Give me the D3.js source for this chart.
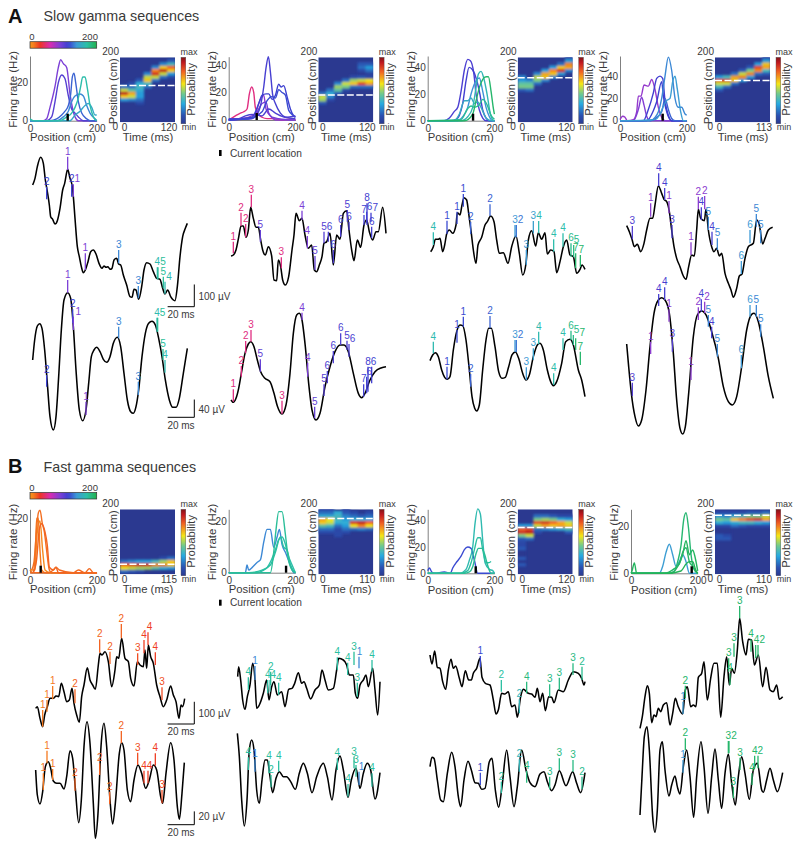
<!DOCTYPE html>
<html>
<head>
<meta charset="utf-8">
<script src="https://cdn.jsdelivr.net/npm/d3@7"></script>
<style>
  body { margin: 0; background: #fff; }
  text { font-family: "Liberation Sans", Arial, sans-serif; fill: #3a3a3a; }
  .domain { stroke: #808080; }
</style>
</head>
<body>
<div id="container"></div>
<script>
/* DATA */
// firing rate curves: [place field position in cm, [[position cm, rate Hz], ...]]
const rateA1 = [
  [90, [[0,0],[40,0],[50,1],[60,7],[75,18],[85,28],[92,32],[100,30],[110,28],[120,14],[135,2],[145,0],[200,0]]],
  [105, [[0,0],[50,0],[65,2],[75,10],[85,20],[95,24],[105,22],[115,13],[125,6],[135,4],[145,2],[160,0],[200,0]]],
  [125, [[0,0],[60,0],[80,1],[95,3],[105,5],[115,8],[122,14],[127,23],[132,25],[137,20],[145,10],[155,4],[170,1],[180,0],[200,0]]],
  [135, [[0,0],[80,0],[100,2],[115,5],[125,10],[135,13],[150,14],[160,13],[170,8],[180,4],[195,1],[200,0]]],
  [150, [[0,0],[120,0],[135,3],[150,5],[165,8],[175,9],[185,7],[195,3],[200,3]]],
  [168, [[0,1],[10,0],[70,0],[90,0],[110,2],[125,4],[135,7],[145,12],[152,18],[158,23],[165,23],[172,17],[180,8],[190,2],[200,0]]]
];
const rateA2 = [
  [50, [[0,0],[20,3],[35,5],[45,6],[55,8],[62,19],[69,24],[75,20],[80,9],[90,4],[100,2],[115,1],[130,1],[160,0],[190,1],[200,0]]],
  [85, [[0,0],[60,2],[80,5],[95,15],[105,18],[112,8],[125,3],[140,0],[200,0]]],
  [92, [[0,0],[70,1],[90,8],[100,12],[112,13],[120,5],[130,2],[150,1],[200,0]]],
  [110, [[0,0],[70,1],[85,4],[95,10],[105,24],[112,38],[119,46],[125,35],[132,18],[140,12],[155,5],[170,2],[200,1]]],
  [114, [[0,0],[70,2],[90,12],[100,18],[112,19],[120,19],[130,15],[140,18],[150,26],[157,24],[165,25],[175,17],[185,8],[195,3],[200,2]]],
  [118, [[0,0],[60,1],[100,6],[115,14],[130,17],[140,16],[150,22],[160,20],[170,18],[180,7],[195,3],[200,2]]],
  [108, [[0,1],[30,1],[50,3],[70,4],[100,3],[120,8],[140,5],[170,2],[200,3]]]
];
const rateA3 = [
  [108, [[0,0],[50,0],[65,2],[80,7],[90,10],[100,22],[110,38],[120,46],[128,45],[138,36],[145,20],[155,8],[165,2],[175,0],[200,0]]],
  [112, [[0,0],[70,0],[85,1],[95,4],[105,13],[115,30],[124,40],[135,38],[145,32],[155,22],[165,8],[175,2],[185,0],[200,0]]],
  [138, [[0,0],[90,0],[105,3],[120,10],[130,20],[145,30],[155,32],[165,22],[175,10],[185,3],[195,0],[200,0]]],
  [152, [[0,0],[80,0],[95,5],[110,15],[120,15],[130,17],[140,13],[150,14],[160,10],[175,2],[190,0],[200,0]]],
  [162, [[0,0],[100,0],[120,3],[135,10],[145,25],[152,35],[160,37],[168,32],[178,20],[188,5],[198,0],[200,0]]],
  [176, [[0,0],[100,1],[120,9],[130,11],[140,10],[155,12],[165,16],[178,12],[190,4],[200,1]]],
  [190, [[0,0],[110,0],[135,5],[145,15],[155,25],[165,31],[175,33],[182,33],[190,22],[197,9],[200,5]]]
];
const rateA4 = [
  [82, [[0,1],[8,4],[15,3],[22,0],[40,1],[50,8],[55,22],[63,22],[72,32],[85,31],[95,37],[105,28],[115,12],[125,3],[135,0],[200,0]]],
  [88, [[0,0],[40,0],[55,10],[65,21],[72,14],[80,4],[90,0],[200,0]]],
  [112, [[0,0],[70,0],[85,10],[100,25],[110,38],[120,40],[128,38],[135,18],[145,5],[155,0],[200,0]]],
  [115, [[0,0],[80,0],[100,9],[110,17],[125,35],[130,22],[140,8],[155,0],[200,0]]],
  [125, [[0,0],[90,0],[110,3],[125,8],[135,20],[145,10],[155,2],[165,0],[200,0]]],
  [135, [[0,0],[90,0],[105,3],[115,8],[125,20],[135,40],[145,57],[155,45],[165,20],[175,12],[185,12],[195,6],[200,5]]],
  [142, [[0,0],[105,1],[120,6],[130,13],[140,18],[150,20],[158,35],[165,40],[172,28],[182,8],[190,0],[200,0]]]
];
const rateB1 = [
  [8, [[0,1],[15,1],[20,12],[25,18],[30,19],[38,8],[45,1],[60,0],[200,0]]],
  [12, [[0,1],[8,0],[15,5],[20,20],[25,20],[30,8],[35,1],[45,0],[200,0]]],
  [15, [[5,1],[12,4],[18,13],[25,22],[30,23],[37,18],[43,15],[50,8],[58,1],[65,0],[200,0]]],
  [18, [[10,0],[20,5],[28,16],[35,18],[45,15],[52,10],[58,2],[70,1],[78,2],[85,0],[200,0]]],
  [16, [[0,0],[55,0],[70,1],[78,2],[88,1],[130,0],[145,1],[165,0],[178,1.5],[190,0],[200,0]]]
];
const rateB2 = [
  [135, [[0,0],[50,0],[55,3],[60,1],[70,2],[85,4],[95,5],[105,12],[115,17],[125,17],[135,10],[145,14],[152,17],[160,11],[170,8],[185,3],[195,0],[200,0]]],
  [170, [[0,0],[85,0],[105,1],[115,2],[128,5],[140,9],[150,13],[160,14],[168,12],[178,7],[190,3],[200,0]]],
  [172, [[0,0],[60,0],[100,1],[125,3],[140,8],[155,14],[165,10],[175,9],[185,3],[200,0]]],
  [175, [[0,0],[100,0],[125,0],[135,8],[142,17],[150,24],[160,24],[170,15],[178,6],[190,1],[200,0]]]
];
const rateB3 = [
  [118, [[0,2],[5,4],[12,1],[20,0],[50,1],[68,0],[75,4],[88,9],[100,13],[110,18],[120,20],[130,19],[140,10],[150,0],[200,0]]],
  [165, [[0,0],[95,0],[115,3],[125,10],[135,20],[142,38],[150,49],[158,45],[165,25],[172,8],[185,3],[195,2],[200,0]]],
  [172, [[0,0],[100,0],[120,2],[130,8],[140,18],[150,27],[158,27],[165,18],[175,8],[182,8],[190,9]]],
  [176, [[0,0],[110,0],[125,1],[135,5],[145,15],[152,19],[162,19],[170,15],[180,6],[190,0],[200,0]]]
];
const rateB4 = [
  [142, [[0,0],[60,0],[85,0],[95,3],[105,9],[115,12.5],[125,8],[135,3],[145,5],[155,8],[165,5],[175,0],[200,0]]],
  [194, [[0,0],[3,1],[10,4.5],[17,0],[30,0],[120,0],[140,3],[155,8],[165,14],[175,8],[185,10],[192,7],[200,1]]],
  [188, [[0,0],[110,0],[130,1],[140,5],[150,12],[158,23],[165,26],[172,20],[180,8],[188,2],[200,0]]],
  [192, [[0,0],[100,0],[130,2],[145,4],[155,9],[165,11],[175,5],[185,3],[200,0]]],
  [196, [[0,0],[110,0],[150,1],[165,4],[175,5],[185,5],[195,1],[200,0]]]
];

// decoded probability per time bin: [position of first 10 cm row, probabilities going up]
const heatA1 = [[70,.3,.7,1,.6,.2],[70,.25,.6,.75,.45,.2,.1],[60,.1,.2,.3,.3,.35,.4,.35,.15],[110,.2,.4,.7,.6,.25],[130,.2,.6,.95,.8,.25],[140,.2,.6,1,.7,.25],[140,.1,.3,.7,.85,.4,.15]];
const heatA2 = [[60,.15,.55,.6,.2],[70,.1,.25,.35,.2],[90,.15,.45,.55,.25],[100,.1,.5,.6,.2],[110,.2,.7,.55,.1],[110,.2,.9,.6,.15,0,.1,.2,.15],[110,.2,.75,.65,.1,.05,.2,.3,.15]];
const heatA3 = [[100,.15,.5,.45,.3,.25],[100,.2,.5,.45,.25],[120,.2,.5,.6,.25],[130,.25,.7,.75,.3],[140,.25,.7,.8,.3],[150,.3,.95,.7,.2],[160,.25,.75,.8,.3,.1]];
const heatA4 = [[100,.15,.4,.6,.9,.3],[110,.2,.6,.95,.4],[120,.2,.7,.75,.2],[130,.3,.8,.6,.15],[140,.3,.8,.5,.15],[150,.2,.8,.9,.3],[150,.15,.4,.75,.7,.3,.1]];
const heatB1 = [[10,.2,.65,.85,.2],[10,.15,.6,.9,.25],[10,.1,.55,.95,.3],[20,.55,.95,.3],[20,.45,.8,.4],[20,.35,.8,.55,.1],[20,.3,.7,.7,.2]];
const heatB2 = [[130,.1,.2,.45,.7,.75,.35,.2,.1],[130,.1,.2,.4,.6,.65,.35,.2,.1],[120,.1,.1,.1,.2,.35,.4,.4,.35],[130,.1,.2,.3,.35,.3,.25,.15,.1],[140,.2,.65,.95,.35,.2,.1],[140,.25,.8,1,.35,.15],[140,.2,.65,.85,.3,.2,.1]];
const heatB3 = [[30,.15,0,.15,0,0,.15,.1,.1,.15,.5,.95,.85,.3],[110,.2,.6,1,.9,.3],[130,.1,.2,.6,.9,.5,.2],[140,.25,.75,.95,.55,.2],[140,.3,.7,.85,.5,.15],[140,.35,.75,.75,.35,.1],[130,.15,.4,.7,.6,.3,.1]];
const heatB4 = [[110,.15,.15,0,0,.1,.35,.5,.3,.1],[110,.15,.1,0,0,.1,.3,.45,.25,.1],[150,.2,.35,.7,.35,.1],[150,.15,.4,.8,.4,.1],[150,.1,.4,.9,.5,.15],[150,.1,.35,.95,.5,.15],[150,.1,.3,.75,.6,.2]];

// LFP traces as [sample (4 kHz), amplitude in counts]; raw is 1.5 uV per count, filtered 0.75 (A) or 0.5 (B)
const rawA1 = [[8,395],[15,415],[22,450],[32,478],[40,460],[46,410],[52,375],[58,335],[62,300],[68,292],[75,278],[82,288],[90,325],[98,380],[104,400],[113,442],[120,415],[126,395],[130,360],[135,295],[142,210],[148,180],[154,150],[160,132],[166,140],[174,165],[182,195],[190,200],[198,188],[207,160],[216,145],[222,152],[228,148],[234,150],[240,142],[246,145],[252,170],[260,175],[266,158],[272,155],[280,125],[290,95],[300,60],[306,58],[312,82],[318,80],[326,52],[335,90],[342,140],[350,162],[360,158],[370,135],[380,115],[390,112],[398,85],[405,68],[413,80],[422,60],[435,48],[442,90],[450,180],[458,240],[466,265],[472,280]];
const filtA1 = [[8,220],[14,280],[22,322],[29,329],[36,315],[44,250],[52,150],[60,50],[70,10],[78,50],[86,170],[94,310],[102,400],[113,422],[122,405],[130,320],[138,190],[148,70],[158,38],[168,70],[176,150],[184,230],[192,250],[200,258],[210,245],[220,222],[230,213],[240,230],[250,270],[262,288],[272,260],[282,180],[292,100],[302,65],[310,60],[318,80],[326,130],[336,230],[346,300],[356,330],[366,336],[376,325],[386,285],[396,230],[406,160],[418,100],[428,78],[438,78],[448,105],[460,180],[472,255]];
const rawA2 = [[3,182],[10,185],[18,200],[26,238],[33,272],[40,272],[48,238],[55,260],[62,328],[70,295],[78,268],[85,268],[92,230],[98,200],[106,185],[115,210],[125,182],[132,110],[140,108],[145,170],[152,150],[158,110],[166,95],[176,120],[186,200],[192,245],[198,310],[208,288],[216,295],[225,245],[235,205],[245,215],[253,140],[260,135],[268,155],[276,180],[282,220],[290,225],[300,250],[310,155],[320,245],[330,232],[340,310],[350,318],[357,260],[365,200],[372,168],[382,230],[392,208],[402,275],[410,290],[418,255],[428,230],[438,255],[445,255],[458,328],[468,250]];
const filtA2 = [[3,100],[10,93],[18,105],[26,135],[34,180],[45,240],[55,268],[62,275],[72,260],[82,220],[92,185],[105,165],[120,155],[132,120],[142,82],[156,58],[168,85],[180,180],[190,300],[200,355],[208,360],[216,340],[226,260],[236,150],[246,70],[258,40],[270,60],[285,140],[300,200],[315,245],[330,265],[342,265],[355,245],[370,180],[385,120],[395,107],[405,120],[420,160],[435,185],[455,197],[468,200]];
const rawA3 = [[2,195],[10,210],[16,232],[24,232],[30,235],[38,195],[44,215],[50,248],[58,260],[68,250],[78,275],[82,312],[90,305],[96,335],[102,357],[110,350],[116,310],[124,250],[130,200],[138,160],[144,215],[155,238],[165,275],[172,285],[182,302],[192,285],[200,230],[208,190],[220,192],[234,160],[245,210],[258,242],[268,190],[278,125],[288,160],[295,230],[305,258],[317,212],[325,252],[335,232],[345,252],[352,188],[362,200],[372,195],[380,132],[390,165],[400,210],[410,230],[420,185],[430,180],[440,130],[450,142],[456,155],[465,142]];
const filtA3 = [[0,218],[8,235],[16,242],[25,230],[35,190],[44,168],[52,162],[60,170],[70,250],[80,305],[90,325],[98,323],[108,280],[118,190],[126,110],[134,75],[140,67],[148,85],[158,190],[168,280],[176,315],[184,315],[195,260],[206,185],[216,165],[226,168],[236,200],[246,235],[256,244],[266,225],[278,180],[288,160],[298,175],[310,230],[322,265],[330,270],[340,250],[352,190],[362,155],[370,143],[380,155],[395,210],[407,275],[420,282],[430,265],[445,190],[455,160],[465,110]];
const rawA4 = [[0,273],[8,255],[16,232],[23,210],[32,217],[42,195],[52,220],[60,260],[70,295],[78,295],[85,335],[95,392],[105,370],[112,352],[120,345],[128,315],[135,260],[142,210],[150,175],[160,150],[170,122],[178,112],[186,150],[195,185],[203,182],[210,260],[215,322],[222,295],[233,288],[238,322],[245,260],[255,210],[262,195],[270,205],[278,182],[285,190],[295,130],[305,100],[313,80],[320,58],[330,85],[338,122],[346,128],[355,175],[365,210],[380,220],[390,290],[398,275],[408,218],[415,235],[425,260],[438,268]];
const filtA4 = [[0,268],[6,200],[14,120],[25,50],[35,22],[45,40],[58,130],[70,260],[82,360],[95,400],[105,407],[115,400],[128,360],[140,240],[150,100],[160,15],[168,-2],[176,20],[186,120],[200,290],[212,355],[225,367],[238,355],[255,305],[275,225],[290,140],[305,95],[317,85],[330,110],[345,200],[360,310],[375,357],[382,360],[395,335],[410,260],[425,170],[440,105]];
const rawB1 = [[7,75],[12,80],[20,45],[28,20],[34,55],[42,80],[50,105],[60,105],[68,112],[76,110],[84,150],[92,125],[100,95],[108,100],[116,135],[122,90],[130,55],[138,33],[145,110],[152,145],[162,197],[170,160],[178,145],[186,132],[195,205],[200,240],[206,235],[215,245],[225,215],[235,140],[245,190],[250,230],[256,225],[265,285],[275,225],[285,215],[292,165],[302,142],[312,215],[320,205],[330,200],[335,250],[340,195],[345,265],[352,230],[360,210],[370,145],[380,110],[390,80],[400,100],[412,142],[420,115],[428,95],[437,45],[443,85],[448,80],[454,104]];
const filtB1 = [[7,240],[12,165],[20,138],[28,175],[36,250],[45,265],[52,245],[60,207],[70,200],[80,200],[92,183],[100,220],[110,298],[118,275],[126,185],[136,82],[144,150],[152,310],[161,385],[170,320],[180,140],[186,35],[194,110],[203,310],[212,380],[220,310],[230,150],[238,78],[246,140],[258,290],[265,322],[272,300],[282,180],[292,145],[302,210],[314,255],[325,230],[337,185],[348,210],[360,255],[370,240],[382,160],[388,140],[398,230],[412,322],[422,270],[432,130],[438,92],[446,170],[453,262]];
const rawB2 = [[3,170],[6,200],[12,160],[18,100],[25,72],[32,110],[40,145],[48,210],[55,160],[60,75],[68,85],[80,120],[90,160],[97,100],[105,140],[112,155],[122,115],[135,125],[145,80],[156,132],[166,135],[174,150],[185,182],[195,150],[202,155],[210,135],[222,103],[235,130],[248,145],[256,190],[265,160],[275,130],[290,135],[300,190],[306,225],[320,220],[330,205],[338,175],[350,175],[356,120],[363,105],[370,145],[380,160],[388,175],[395,140],[408,195],[415,130],[423,55],[430,155]];
const filtB2 = [[2,350],[8,280],[15,150],[23,72],[31,150],[38,300],[45,330],[52,300],[60,180],[68,140],[76,210],[85,270],[92,270],[100,220],[108,172],[118,215],[128,235],[140,220],[150,220],[162,205],[176,182],[188,230],[200,260],[212,230],[226,172],[240,220],[260,260],[272,220],[286,150],[298,240],[310,282],[320,240],[334,158],[344,210],[358,245],[370,185],[380,230],[392,260],[402,240],[415,153],[430,232]];
const rawB3 = [[0,205],[6,178],[14,217],[22,168],[30,165],[38,125],[47,102],[55,160],[63,192],[70,165],[77,172],[88,135],[96,110],[106,158],[116,130],[124,130],[130,150],[140,165],[150,195],[156,138],[166,120],[180,115],[190,70],[198,28],[205,40],[215,90],[225,88],[235,95],[245,50],[255,55],[262,18],[272,80],[280,102],[295,90],[305,88],[315,78],[322,105],[330,65],[338,90],[346,38],[356,80],[365,78],[372,62],[385,100],[400,95],[415,130],[430,155],[445,150],[455,135],[462,115],[465,125]];
const filtB3 = [[0,220],[6,248],[12,245],[22,180],[32,120],[40,115],[52,200],[65,263],[75,220],[85,130],[92,100],[102,180],[114,236],[124,210],[135,172],[145,170],[155,152],[165,155],[178,235],[186,245],[196,150],[206,98],[216,160],[230,270],[240,190],[252,100],[262,160],[275,270],[288,210],[300,172],[315,160],[330,198],[342,205],[352,175],[365,148],[375,165],[388,208],[408,163],[428,205],[440,170],[452,142],[465,202]];
const rawB4 = [[0,5],[7,40],[15,100],[22,133],[28,110],[35,22],[42,45],[48,40],[55,65],[62,55],[70,75],[80,82],[90,15],[98,50],[106,95],[114,72],[128,48],[136,120],[142,130],[152,70],[160,75],[168,70],[175,158],[185,170],[192,205],[202,90],[212,155],[222,200],[232,200],[242,38],[252,160],[260,220],[268,135],[275,185],[283,170],[292,240],[299,335],[308,265],[318,225],[325,272],[335,270],[343,195],[355,225],[368,130],[378,188],[390,120],[400,115],[410,135],[418,92],[428,100]];
const filtB4 = [[0,75],[6,190],[13,310],[21,340],[28,270],[38,70],[45,23],[52,90],[60,270],[67,295],[75,210],[87,132],[95,165],[105,192],[112,160],[120,138],[130,220],[140,270],[150,190],[161,68],[170,190],[183,295],[192,220],[204,80],[215,190],[225,273],[235,180],[245,95],[255,200],[265,258],[275,170],[286,105],[295,190],[305,250],[315,200],[328,122],[340,210],[352,230],[365,150],[370,143],[380,180],[390,215],[400,180],[412,145],[428,202]];

// decoded spikes on each trace: [sample, top count, bottom count, cell number, place field cm]
const spkRawA1 = [[50,390,352,"2",115],[113,480,440,"1",90],[125,397,360,"2",115],[130,397,360,"1",90],[166,190,140,"1",90],[266,200,160,"3",135],[325,92,55,"3",135],[382,148,112,"4",165],[384,148,112,"5",175],[400,120,85,"5",175],[405,105,68,"4",165]];
const spkFiltA1 = [[50,175,140,"2",115],[113,460,422,"1",90],[128,372,330,"2",115],[130,350,310,"1",90],[168,95,55,"1",90],[266,320,285,"3",135],[325,155,115,"3",135],[381,347,305,"4",165],[383,347,305,"5",175],[399,253,220,"5",175],[405,220,182,"4",165]];
const spkRawA2 = [[10,225,190,"1",50],[33,312,272,"2",50],[47,278,238,"2",50],[64,366,328,"3",50],[91,260,225,"5",100],[154,178,145,"3",50],[216,318,290,"4",90],[232,242,205,"4",90],[255,182,140,"5",100],[282,255,220,"5",105],[295,255,225,"6",108],[310,200,160,"6",108],[332,275,240,"6",108],[352,320,285,"5",108],[357,285,260,"6",108],[402,305,275,"7",112],[411,340,275,"8",112],[410,315,280,"6",112],[423,312,285,"7",112],[425,270,235,"6",112]];
const spkFiltA2 = [[10,132,95,"1",50],[34,202,170,"2",50],[47,277,240,"2",50],[63,310,275,"3",50],[91,222,185,"5",100],[156,98,58,"3",50],[216,362,340,"4",90],[233,212,170,"4",90],[254,80,45,"5",100],[282,147,112,"5",105],[292,187,150,"6",108],[310,247,210,"6",108],[332,300,265,"6",108],[351,278,250,"5",108],[357,268,230,"6",108],[401,147,110,"7",112],[410,170,120,"6",112],[414,200,125,"8",112],[425,200,150,"6",112]];
const spkRawA3 = [[10,253,215,"4",165],[51,288,248,"1",118],[81,315,278,"1",118],[100,368,330,"1",118],[122,285,248,"2",125],[180,337,302,"2",125],[255,275,238,"3",140],[259,275,238,"2",130],[289,200,155,"3",140],[310,287,250,"3",145],[326,287,250,"4",165],[371,232,195,"4",168],[399,250,210,"4",168],[423,220,180,"6",180],[431,215,178,"5",180],[437,190,145,"7",190],[451,185,150,"7",190]];
const spkFiltA3 = [[10,275,240,"4",165],[51,200,162,"1",118],[81,310,272,"1",118],[100,350,320,"1",118],[122,178,140,"2",125],[180,352,315,"2",125],[255,280,244,"3",140],[259,280,244,"2",130],[289,198,160,"3",140],[310,255,220,"3",145],[326,305,267,"4",165],[371,180,145,"4",168],[399,285,250,"4",168],[423,308,280,"6",180],[430,295,265,"5",180],[437,285,250,"7",190],[451,245,205,"7",190]];
const spkRawA4 = [[17,272,232,"3",105],[72,340,300,"1",85],[96,430,392,"4",110],[114,386,350,"4",110],[127,347,310,"1",85],[136,275,235,"3",108],[193,223,185,"1",85],[215,360,322,"2",85],[224,328,290,"4",110],[234,362,322,"2",85],[245,300,260,"5",135],[256,255,215,"4",110],[272,235,200,"5",135],[344,167,128,"6",140],[370,260,220,"6",140],[389,308,270,"5",135],[402,260,220,"5",135]];
const spkFiltA4 = [[17,152,112,"3",105],[72,275,238,"1",85],[96,418,382,"4",110],[114,438,400,"4",110],[127,372,335,"1",85],[137,282,245,"3",105],[193,200,160,"1",85],[215,378,340,"2",85],[224,402,365,"4",110],[234,395,360,"2",85],[245,355,320,"5",135],[255,320,285,"4",110],[272,268,230,"5",135],[344,235,195,"6",140],[370,385,350,"6",140],[389,385,350,"5",135],[402,327,290,"5",135]];
const spkRawB1 = [[28,70,20,"1",12],[41,100,65,"1",12],[58,142,102,"1",12],[125,132,90,"2",18],[199,282,242,"2",18],[230,245,208,"2",18],[264,328,285,"2",18],[313,240,205,"3",24],[332,280,240,"4",28],[344,303,265,"4",28],[366,243,205,"4",28],[386,138,100,"3",24]];
const spkFiltB1 = [[30,230,180,"1",12],[41,298,260,"1",12],[58,243,210,"1",12],[125,215,178,"2",18],[199,260,225,"2",18],[229,175,138,"2",18],[264,357,320,"2",18],[313,292,255,"3",24],[332,238,200,"4",28],[344,238,200,"4",28],[366,290,253,"4",28],[386,180,140,"3",24]];
const spkRawB2 = [[35,168,130,"4",172],[55,202,160,"1",135],[93,160,120,"4",172],[100,160,125,"4",172],[102,185,145,"2",175],[126,152,115,"4",172],[302,228,190,"4",172],[333,212,175,"4",172],[352,245,205,"3",175],[362,152,110,"3",175],[367,230,195,"1",135],[406,220,185,"4",172]];
const spkFiltB2 = [[35,278,240,"4",172],[55,272,235,"1",135],[97,268,230,"4",172],[103,225,188,"2",175],[126,268,235,"4",172],[302,275,240,"4",172],[334,198,160,"4",172],[352,280,245,"3",175],[358,255,220,"3",175],[367,235,195,"1",135],[406,230,190,"4",172]];
const spkRawB3 = [[151,202,168,"1",118],[214,130,95,"2",172],[268,72,30,"2",160],[290,125,90,"4",184],[359,117,80,"3",182],[388,137,100,"3",182],[429,180,145,"3",182],[456,170,130,"2",178]];
const spkFiltB3 = [[151,202,165,"1",118],[214,175,140,"2",172],[268,242,205,"2",160],[290,208,172,"4",184],[359,190,152,"3",182],[388,245,210,"3",182],[429,240,205,"3",182],[456,190,152,"2",178]];
const spkRawB4 = [[129,85,48,"1",140],[136,133,95,"2",190],[266,215,175,"3",190],[270,170,135,"4",190],[282,260,220,"3",190],[299,372,335,"3",190],[333,272,235,"4",190],[347,255,215,"4",190],[354,255,220,"2",190]];
const spkFiltB4 = [[129,240,202,"1",140],[136,305,270,"2",190],[265,297,260,"3",190],[267,297,260,"2",190],[280,160,125,"3",190],[300,247,210,"3",190],[336,200,165,"4",190],[344,253,215,"4",190],[354,253,215,"2",190]];

/* CONSTANTS */
const width = 800, height = 847;

const svg = d3.select('#container').append('svg')
  .attr('width', width).attr('height', height);

const defs = svg.append('defs');
defs.append('filter').attr('id', 'soft')
  .append('feGaussianBlur').attr('stdDeviation', 0.85);

// position colours, same as the horizontal colour bars
const posStops = [5, 30, 60, 90, 115, 140, 170, 200];
const posColor = d3.scaleLinear().domain(posStops)
  .range(['#f7941d', '#ee3524', '#d92bb0', '#7c3fd6', '#3a3fd0', '#3d9ad6', '#2cc0a8', '#22b14c'])
  .clamp(true);

// probability colours, jet style
const jetStops = [0, .12, .3, .45, .6, .78, .92, 1];
const jet = d3.scaleLinear().domain(jetStops)
  .range(['#2b3990', '#2b4fb0', '#27aae1', '#6fc98f', '#f5e616', '#f26522', '#c1181f', '#7f1416']);

const gradient = defs.append('linearGradient').attr('id', 'jetBar')
  .attr('x1', 0).attr('x2', 0).attr('y1', 1).attr('y2', 0);
jetStops.forEach(s => gradient.append('stop').attr('offset', s).attr('stop-color', jet(s)));

const posGradient = defs.append('linearGradient').attr('id', 'posBar');
d3.range(0, 201, 10).forEach(p => posGradient.append('stop').attr('offset', p / 200).attr('stop-color', posColor(p)));

// trace scales are shared: one sample and one count are a third of a pixel
const sampleScale = d3.scaleLinear().domain([0, 480]).range([0, 160]);
const countScale = d3.scaleLinear().domain([0, 480]).range([0, -160]);
const traceLine = d3.line()
  .x(d => sampleScale(d[0]))
  .y(d => countScale(d[1]))
  .curve(d3.curveMonotoneX);

function label(x, y, txt, size, anchor) {
  return svg.append('text').attr('x', x).attr('y', y)
    .attr('font-size', size).attr('text-anchor', anchor || 'middle')
    .attr('dominant-baseline', 'central').text(txt);
}
function rotLabel(x, y, txt, size) {
  label(x, y, txt, size).attr('transform', `rotate(-90 ${x} ${y})`);
}

/* RATE PANEL */
function drawRate(curves, cur, x0, bottom, top, yMax, yTicks) {
  const x = d3.scaleLinear().domain([0, 200]).range([x0, x0 + 66.7]);
  const y = d3.scaleLinear().domain([0, yMax]).range([bottom, top]);

  svg.append('g').attr('transform', `translate(0,${bottom})`)
    .call(d3.axisBottom(x).tickValues([0, 200]).tickSize(0).tickPadding(4))
    .call(g => g.selectAll('text').attr('font-size', 10));
  svg.append('g').attr('transform', `translate(${x0},0)`)
    .call(d3.axisLeft(y).tickValues(yTicks).tickSize(0).tickPadding(2))
    .call(g => g.selectAll('text').attr('font-size', 10));

  const line = d3.line().x(d => x(d[0])).y(d => y(d[1])).curve(d3.curveMonotoneX);
  svg.append('g').selectAll('path').data(curves).join('path')
    .attr('d', d => line(d[1]))
    .attr('fill', 'none')
    .attr('stroke', d => posColor(d[0]))
    .attr('stroke-width', 1.4);

  svg.append('rect').attr('x', x(cur) - 1.2).attr('y', bottom - 7)
    .attr('width', 2.4).attr('height', 7).attr('fill', '#000');

  rotLabel(x0 - 17, (top + bottom) / 2 + 1, 'Firing rate (Hz)', 11.5);
  label(x0 + 33, bottom + 16.5, 'Position (cm)', 11.3);
}

/* DECODING PANEL */
let clipId = 0;
function drawHeat(cols, cur, x0, top, tEnd) {
  const w = 55, h = 65, bottom = top + h;
  const t = d3.scaleBand().domain(d3.range(cols.length)).range([x0, x0 + w]);
  const y = d3.scaleLinear().domain([0, 200]).range([bottom, top]);
  const cells = cols.flatMap((c, i) => c.slice(1).map((v, k) => ({ i, pos: c[0] + k * 10, v })));

  const id = 'clip' + (clipId++);
  defs.append('clipPath').attr('id', id).append('rect')
    .attr('x', x0).attr('y', top).attr('width', w).attr('height', h);

  const g = svg.append('g').attr('clip-path', `url(#${id})`);
  g.append('rect').attr('x', x0).attr('y', top).attr('width', w).attr('height', h).attr('fill', jet(0));
  g.append('g').attr('filter', 'url(#soft)').selectAll('rect').data(cells).join('rect')
    .attr('x', d => t(d.i))
    .attr('y', d => y(d.pos + 5))
    .attr('width', t.bandwidth() + .5)
    .attr('height', y(0) - y(10) + .3)
    .attr('fill', d => jet(d.v * .92));

  svg.append('line').attr('x1', x0).attr('x2', x0 + w).attr('y1', y(cur)).attr('y2', y(cur))
    .attr('stroke', '#fff').attr('stroke-width', 1.5).attr('stroke-dasharray', '7 2.5');

  const time = d3.scaleLinear().domain([0, tEnd]).range([x0 + 4, x0 + 48.5]);
  svg.append('g').attr('transform', `translate(0,${bottom})`)
    .call(d3.axisBottom(time).tickValues([0, tEnd]).tickFormat(d3.format('d')).tickSize(0).tickPadding(1.5))
    .call(g => g.select('.domain').remove())
    .call(g => g.selectAll('text').attr('font-size', 10));

  label(x0 - 1, top - 5.5, '200', 10, 'end');
  label(x0 - 2, bottom + 4, '0', 10, 'end');
  rotLabel(x0 - 6.5, top + 34, 'Position (cm)', 11.3);
  label(x0 + 28, bottom + 15, 'Time (ms)', 11.3);

  // probability colour bar
  svg.append('rect').attr('x', x0 + 61).attr('y', top).attr('width', 4.8).attr('height', h + 1.5)
    .attr('fill', 'url(#jetBar)').attr('stroke', '#555').attr('stroke-width', .4);
  label(x0 + 69, top - 5, 'max', 9);
  label(x0 + 69, bottom + 5, 'min', 9);
  rotLabel(x0 + 71.5, top + 32, 'Probability', 11.3);
}

/* TRACE WITH SPIKE TICKS */
function drawTrace(points, spikes, ox, oy) {
  const g = svg.append('g').attr('transform', `translate(${ox},${oy})`);
  g.append('path').attr('d', traceLine(points))
    .attr('fill', 'none').attr('stroke', '#000').attr('stroke-width', 1.55)
    .attr('stroke-linejoin', 'round');

  g.selectAll('line').data(spikes).join('line')
    .attr('x1', d => sampleScale(d[0])).attr('x2', d => sampleScale(d[0]))
    .attr('y1', d => countScale(d[1])).attr('y2', d => countScale(d[2]))
    .attr('stroke', d => posColor(d[4])).attr('stroke-width', 1.3);

  // push labels of neighbouring ticks apart so the digits stay readable
  const placed = [];
  spikes.slice().sort((a, b) => a[0] - b[0]).forEach(d => {
    let lx = sampleScale(d[0]);
    const ly = countScale(d[1]) - 5.5;
    placed.forEach(p => {
      if (Math.abs(p.ly - ly) < 8 && lx - p.lx < 5.6) lx = p.lx + 5.6;
    });
    placed.push({ lx, ly, d });
  });
  g.selectAll('text').data(placed).join('text')
    .attr('x', p => p.lx).attr('y', p => p.ly)
    .attr('text-anchor', 'middle').attr('dominant-baseline', 'central')
    .attr('font-size', 10)
    .style('fill', p => posColor(p.d[4]))
    .text(p => p.d[3]);
}

/* SCALE BARS */
function drawScaleBar(bottom, counts, vLabel, vLabelY, tLabelY) {
  const xRight = 194.3, xLeft = xRight + sampleScale(-80);
  const path = d3.path();
  path.moveTo(xLeft, bottom);
  path.lineTo(xRight, bottom);
  path.lineTo(xRight, bottom + countScale(counts));
  svg.append('path').attr('d', path.toString())
    .attr('fill', 'none').attr('stroke', '#000').attr('stroke-width', 1);
  label(198.5, vLabelY, vLabel, 10, 'start');
  label(181, tLabelY, '20 ms', 10);
}

/* SECTION FURNITURE */
function drawPosBar(top) {
  svg.append('rect').attr('x', 30).attr('y', top).attr('width', 66.7).attr('height', 6.5)
    .attr('fill', 'url(#posBar)').attr('stroke', '#333').attr('stroke-width', .7);
  label(32, top - 5, '0', 9.5);
  label(90, top - 5, '200', 9.5);
}
function drawLocationKey(y) {
  svg.append('rect').attr('x', 219).attr('y', y - 3).attr('width', 2.6).attr('height', 6).attr('fill', '#000');
  label(230, y, 'Current location', 10.2, 'start');
}

label(8, 16, 'A', 20, 'start').attr('font-weight', 'bold').style('fill', '#111');
label(43.5, 15.5, 'Slow gamma sequences', 14.3, 'start');
label(8, 466, 'B', 20, 'start').attr('font-weight', 'bold').style('fill', '#111');
label(43.5, 467, 'Fast gamma sequences', 14.3, 'start');

drawPosBar(41.7);
drawPosBar(492.5);
drawLocationKey(153);
drawLocationKey(602.7);

drawRate(rateA1, 113, 30, 120.7, 56, 34, [0, 20]);
drawRate(rateA2, 84, 228.7, 120, 56.7, 46, [0, 20, 40]);
drawRate(rateA3, 136, 427.7, 120.7, 56, 48.5, [0, 20, 40]);
drawRate(rateA4, 128, 620, 120.7, 56, 58, [0, 20, 40]);
drawRate(rateB1, 32, 30, 572.7, 509.3, 23.3, [0, 20]);
drawRate(rateB2, 172, 228.7, 572.7, 509.3, 24.9, [0, 20]);
drawRate(rateB3, 144, 427.7, 573.3, 509.3, 48.7, [0, 20, 40]);
drawRate(rateB4, 182, 631, 573.3, 509.3, 27.5, [0, 20]);

drawHeat(heatA1, 113, 120, 57.3, 120);
drawHeat(heatA2, 84, 318.3, 57.3, 120);
drawHeat(heatA3, 137, 517.7, 57.3, 120);
drawHeat(heatA4, 129, 715, 57.3, 113);
drawHeat(heatB1, 31, 120, 509.3, 115);
drawHeat(heatB2, 172, 318.3, 509.3, 110);
drawHeat(heatB3, 144, 517.7, 509.3, 120);
drawHeat(heatB4, 182, 715, 509.3, 110);

drawTrace(rawA1, spkRawA1, 30, 316.67);
drawTrace(filtA1, spkFiltA1, 30, 433.33);
drawTrace(rawA2, spkRawA2, 230, 316.67);
drawTrace(filtA2, spkFiltA2, 230, 433.33);
drawTrace(rawA3, spkRawA3, 430, 316.67);
drawTrace(filtA3, spkFiltA3, 430, 433.33);
drawTrace(rawA4, spkRawA4, 626.67, 316.67);
drawTrace(filtA4, spkFiltA4, 626.67, 433.33);
drawTrace(rawB1, spkRawB1, 33.33, 733.33);
drawTrace(filtB1, spkFiltB1, 33.33, 850);
drawTrace(rawB2, spkRawB2, 236.67, 733.33);
drawTrace(filtB2, spkFiltB2, 236.67, 850);
drawTrace(rawB3, spkRawB3, 430, 723.33);
drawTrace(filtB3, spkFiltB3, 430, 840);
drawTrace(rawB4, spkRawB4, 640, 730);
drawTrace(filtB4, spkFiltB4, 640, 840);

drawScaleBar(306.7, 100 / 1.5, '100 \u00b5V', 296.7, 314);
drawScaleBar(417.3, 40 / .75, '40 \u00b5V', 409.3, 425.7);
drawScaleBar(724, 100 / 1.5, '100 \u00b5V', 713.3, 731.7);
drawScaleBar(824.7, 20 / .5, '20 \u00b5V', 816.7, 832.7);
</script>
</body>
</html>
